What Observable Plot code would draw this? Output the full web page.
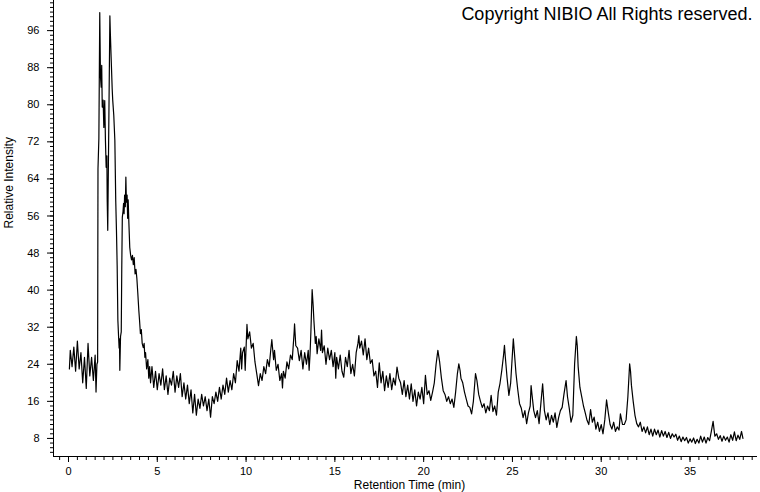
<!DOCTYPE html>
<html><head><meta charset="utf-8">
<script src="https://cdn.jsdelivr.net/npm/d3@7"></script>
<script src="https://cdn.jsdelivr.net/npm/@observablehq/plot@0.6"></script>
<style>body{margin:0;background:#fff;}</style>
</head><body><div id="chart"></div>
<script>
// Retention time (min) of each sample
const retentionTime = [
  0.05, 0.1, 0.2, 0.3, 0.4, 0.5, 0.6, 0.7, 0.8, 0.9,
  1.0, 1.1, 1.2, 1.3, 1.4, 1.5, 1.55, 1.6, 1.64, 1.66,
  1.71, 1.76, 1.80, 1.84, 1.87, 1.90, 1.95, 1.99, 2.04, 2.08,
  2.12, 2.16, 2.18, 2.21, 2.27, 2.33, 2.36, 2.40, 2.46, 2.49,
  2.55, 2.61, 2.66, 2.70, 2.74, 2.78, 2.82, 2.85, 2.87, 2.89,
  2.93, 2.97, 3.00, 3.03, 3.07, 3.10, 3.13, 3.16, 3.20, 3.23,
  3.26, 3.30, 3.33, 3.36, 3.40, 3.45, 3.50, 3.55, 3.60, 3.65,
  3.70, 3.75, 3.80, 3.85, 3.90, 3.96, 4.00, 4.05, 4.10, 4.15,
  4.21, 4.26, 4.30, 4.34, 4.40, 4.47, 4.52, 4.57, 4.62, 4.7,
  4.8, 4.9, 5.0, 5.1, 5.2, 5.3, 5.4, 5.5, 5.6, 5.7,
  5.8, 5.9, 6.0, 6.1, 6.2, 6.3, 6.4, 6.5, 6.6, 6.7,
  6.8, 6.9, 7.0, 7.1, 7.2, 7.3, 7.4, 7.5, 7.6, 7.7,
  7.8, 7.9, 8.0, 8.1, 8.2, 8.3, 8.4, 8.5, 8.6, 8.7,
  8.8, 8.9, 9.0, 9.1, 9.2, 9.3, 9.4, 9.5, 9.6, 9.7,
  9.75, 9.8, 9.9, 9.95, 10.05, 10.1, 10.2, 10.3, 10.4, 10.5,
  10.6, 10.7, 10.8, 10.9, 11.0, 11.1, 11.2, 11.3, 11.4, 11.45,
  11.55, 11.6, 11.7, 11.8, 11.9, 12.0, 12.05, 12.1, 12.2, 12.3,
  12.4, 12.5, 12.6, 12.7, 12.73, 12.8, 12.9, 13.0, 13.1, 13.2,
  13.3, 13.4, 13.5, 13.55, 13.6, 13.65, 13.72, 13.78, 13.82, 13.9,
  13.95, 14.0, 14.1, 14.2, 14.25, 14.3, 14.4, 14.5, 14.6, 14.7,
  14.8, 14.9, 15.0, 15.05, 15.1, 15.2, 15.3, 15.4, 15.5, 15.6,
  15.7, 15.8, 15.9, 16.0, 16.1, 16.2, 16.3, 16.35, 16.4, 16.5,
  16.6, 16.7, 16.8, 16.9, 17.0, 17.1, 17.2, 17.3, 17.4, 17.5,
  17.6, 17.7, 17.8, 17.9, 18.0, 18.1, 18.2, 18.3, 18.4, 18.5,
  18.6, 18.7, 18.8, 18.9, 19.0, 19.1, 19.2, 19.3, 19.4, 19.5,
  19.6, 19.7, 19.8, 19.9, 20.0, 20.1, 20.2, 20.3, 20.4, 20.5,
  20.6, 20.7, 20.8, 20.9, 21.0, 21.1, 21.2, 21.3, 21.4, 21.5,
  21.6, 21.7, 21.8, 21.9, 21.98, 22.05, 22.1, 22.2, 22.3, 22.4,
  22.5, 22.6, 22.7, 22.8, 22.92, 23.0, 23.1, 23.2, 23.3, 23.4,
  23.5, 23.6, 23.7, 23.8, 23.9, 24.0, 24.1, 24.2, 24.3, 24.4,
  24.5, 24.55, 24.6, 24.7, 24.8, 24.9, 25.05, 25.1, 25.2, 25.3,
  25.4, 25.5, 25.6, 25.7, 25.8, 25.9, 26.0, 26.05, 26.1, 26.2,
  26.3, 26.4, 26.5, 26.6, 26.7, 26.75, 26.8, 26.9, 27.0, 27.1,
  27.2, 27.3, 27.4, 27.5, 27.6, 27.7, 27.8, 27.9, 28.02, 28.1,
  28.2, 28.3, 28.4, 28.5, 28.6, 28.65, 28.7, 28.8, 28.9, 29.0,
  29.1, 29.2, 29.3, 29.4, 29.5, 29.6, 29.7, 29.8, 29.9, 30.0,
  30.1, 30.2, 30.3, 30.4, 30.5, 30.6, 30.7, 30.8, 30.9, 31.0,
  31.08, 31.2, 31.3, 31.4, 31.5, 31.6, 31.65, 31.7, 31.8, 31.9,
  32.0, 32.1, 32.2, 32.3, 32.4, 32.5, 32.6, 32.7, 32.8, 32.9,
  33.0, 33.1, 33.2, 33.3, 33.4, 33.5, 33.6, 33.7, 33.8, 33.9,
  34.0, 34.1, 34.2, 34.3, 34.4, 34.5, 34.6, 34.7, 34.8, 34.9,
  35.0, 35.1, 35.2, 35.3, 35.4, 35.5, 35.6, 35.7, 35.8, 35.9,
  36.0, 36.1, 36.2, 36.3, 36.35, 36.4, 36.5, 36.6, 36.7, 36.8,
  36.9, 37.0, 37.1, 37.2, 37.3, 37.4, 37.5, 37.6, 37.7, 37.8,
  37.9, 37.98
];

// Relative intensity at each retention time
const relativeIntensity = [
  23.0, 27.0, 23.5, 27.7, 22.5, 29.0, 23.0, 26.5, 20.0, 25.5,
  18.8, 28.5, 21.5, 25.5, 20.5, 26.0, 18.0, 24.0, 24.5, 66.2,
  72.7, 99.9, 86.0, 83.8, 88.5, 79.5, 81.0, 75.1, 80.9, 72.3,
  66.5, 69.0, 59.3, 52.9, 76.0, 99.2, 95.0, 90.3, 83.4, 81.0,
  77.7, 72.3, 59.3, 53.0, 45.3, 33.5, 30.0, 27.5, 29.5, 22.7,
  30.0, 31.0, 45.0, 55.7, 57.0, 58.7, 56.5, 60.5, 58.0, 64.4,
  59.0, 60.5, 55.5, 59.5, 54.5, 49.2, 47.5, 46.5, 47.5, 45.5,
  47.0, 43.5, 44.5, 42.5, 39.5, 35.6, 33.5, 30.6, 31.5, 28.5,
  27.6, 28.5, 25.5, 26.5, 23.0, 25.0, 21.0, 23.5, 20.0, 23.5,
  19.0, 22.5, 18.5, 22.0, 19.5, 23.0, 18.5, 21.5, 17.5, 21.0,
  19.5, 22.5, 18.0, 21.5, 19.0, 22.0, 17.0, 20.0, 16.5, 19.5,
  15.5, 18.5, 13.5, 17.5, 13.0, 16.5, 14.5, 17.5, 15.0, 17.0,
  14.0, 16.5, 12.6, 17.0, 15.5, 18.0, 16.0, 19.0, 16.5, 19.5,
  17.5, 21.0, 18.0, 20.5, 18.5, 22.0, 20.0, 24.8, 22.5, 27.5,
  23.0, 26.5, 27.7, 22.7, 32.6, 29.5, 31.0, 27.5, 28.5, 24.5,
  22.0, 19.4, 22.0, 20.5, 23.5, 22.0, 25.0, 23.5, 27.5, 29.3,
  25.0, 27.0, 22.7, 24.0, 20.5, 22.0, 18.9, 22.5, 21.0, 24.5,
  23.0, 26.0, 25.0, 30.5, 32.7, 28.0, 27.5, 24.8, 27.0, 23.0,
  26.5, 24.0, 27.0, 22.7, 26.0, 31.0, 40.1, 36.5, 33.4, 28.5,
  30.0, 26.3, 29.5, 27.0, 31.4, 26.5, 28.0, 24.0, 27.5, 25.0,
  27.0, 23.5, 26.5, 21.0, 25.5, 23.0, 26.0, 22.5, 21.2, 25.5,
  23.5, 27.0, 22.0, 24.0, 21.5, 26.5, 28.5, 30.2, 27.5, 29.0,
  26.0, 29.5, 25.0, 27.5, 24.2, 25.0, 21.5, 22.5, 19.0, 24.3,
  20.0, 22.5, 18.3, 21.5, 19.0, 22.0, 18.5, 21.0, 19.5, 23.4,
  21.0, 20.0, 17.5, 20.5, 17.0, 19.5, 16.5, 19.8, 16.0, 18.5,
  15.0, 18.0, 16.5, 19.0, 15.5, 21.6, 17.5, 18.3, 16.2, 18.0,
  20.0, 24.0, 27.0, 24.5, 21.0, 18.3, 17.5, 16.0, 17.0, 15.5,
  16.5, 14.7, 18.0, 22.0, 24.1, 22.7, 21.0, 20.0, 18.0, 16.5,
  15.0, 14.7, 13.3, 16.0, 22.0, 20.5, 17.5, 16.0, 14.7, 15.5,
  13.5, 15.0, 14.0, 17.3, 13.8, 15.0, 13.0, 18.0, 19.9, 22.7,
  26.0, 28.1, 25.5, 21.0, 17.3, 20.0, 29.5, 27.0, 22.0, 18.5,
  15.5, 14.5, 12.5, 14.0, 11.2, 13.5, 15.0, 19.4, 17.5, 14.0,
  12.5, 14.0, 11.2, 15.5, 19.8, 17.0, 14.0, 12.0, 13.5, 11.0,
  13.0, 11.5, 13.5, 10.4, 12.5, 14.0, 14.7, 17.5, 20.5, 17.0,
  14.5, 11.5, 13.0, 24.0, 30.0, 28.0, 23.5, 19.0, 17.0, 15.0,
  13.5, 11.9, 11.0, 14.2, 11.5, 12.6, 10.0, 11.5, 9.5, 11.0,
  9.0, 12.0, 16.3, 13.5, 11.0, 10.0, 11.5, 9.5, 10.5, 9.8,
  13.3, 11.0, 11.0, 12.0, 17.0, 24.1, 22.5, 19.5, 16.0, 13.0,
  11.2, 10.5, 11.5, 9.5, 10.5, 9.2, 10.5, 8.8, 10.0, 8.5,
  10.0, 8.8, 9.8, 8.3, 9.7, 8.5, 9.5, 8.2, 9.3, 8.0,
  9.0, 8.3, 8.9, 7.6, 8.5, 7.3, 8.3, 7.5, 8.2, 7.0,
  7.9, 7.2, 8.1, 6.9, 7.8, 7.0, 8.5, 7.2, 8.3, 7.0,
  8.2, 7.5, 9.5, 11.7, 10.0, 8.5, 9.0, 7.8, 8.6, 7.4,
  8.5, 7.6, 8.3, 7.2, 8.8, 7.6, 9.4, 7.5, 8.7, 7.8,
  9.5, 8.0
];

const xTickLabels = [0, 5, 10, 15, 20, 25, 30, 35];
const yTickLabels = [8, 16, 24, 32, 40, 48, 56, 64, 72, 80, 88, 96];
const xAxisTitle = "Retention Time (min)";
const yAxisTitle = "Relative Intensity";
const copyrightText = "Copyright NIBIO All Rights reserved.";

const data = retentionTime.map((t, i) => ({t, v: relativeIntensity[i]}));
const xDomain = [-0.845, 38.8];
const yDomain = [4.1, 102.5];
const xMinor = d3.range(-0.5, 38.8, 0.5);
const yMinor = d3.range(5, 102.5, 1);

const chart = Plot.plot({
  width: 760, height: 492,
  marginLeft: 53, marginRight: 3, marginTop: 0, marginBottom: 36,
  style: {fontFamily: '"Liberation Sans", Arial, sans-serif', fontSize: "11px", background: "white", color: "black"},
  x: {domain: xDomain},
  y: {domain: yDomain},
  marks: [
    Plot.axisX({ticks: xMinor, tickSize: 4, tickFormat: () => "", label: null}),
    Plot.axisX({ticks: xTickLabels, tickSize: 6, tickPadding: 5, label: null}),
    Plot.axisY({ticks: yMinor, tickSize: 3, tickFormat: () => "", label: null}),
    Plot.axisY({ticks: yTickLabels, tickSize: 6, tickPadding: 8, label: null}),
    Plot.ruleX([xDomain[0]], {stroke: "black"}),
    Plot.ruleY([yDomain[0]], {stroke: "black"}),
    Plot.line(data, {x: "t", y: "v", stroke: "black", strokeWidth: 1.2}),
    Plot.text([xAxisTitle], {frameAnchor: "bottom", dx: 4, dy: 32, lineAnchor: "bottom", fontSize: 12}),
    Plot.text([yAxisTitle], {frameAnchor: "left", rotate: -90, dx: -44, fontSize: 12}),
    Plot.text([copyrightText], {frameAnchor: "top-right", textAnchor: "end", lineAnchor: "bottom", dx: -5, dy: 19.5, fontSize: 18})
  ]
});
document.getElementById("chart").appendChild(chart);
</script>
</body></html>
